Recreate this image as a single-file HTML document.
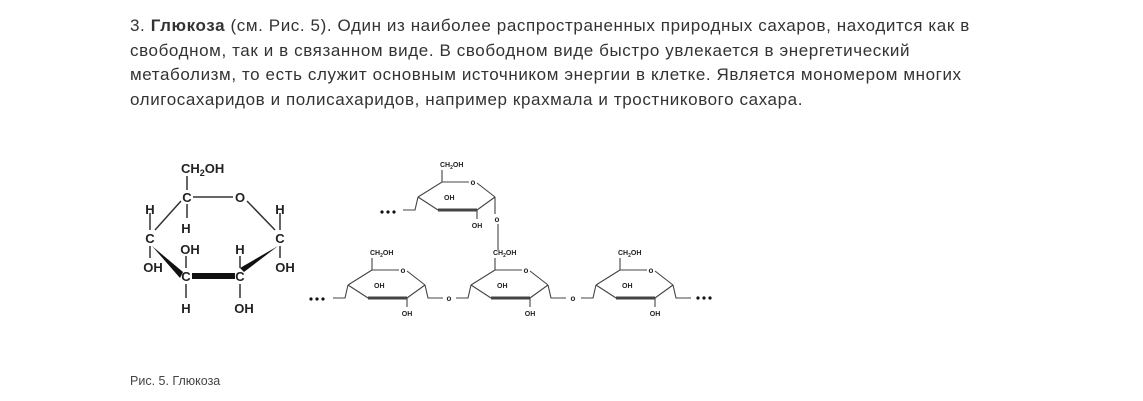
<!DOCTYPE html>
<html><head><meta charset="utf-8"><style>
body{margin:0;width:1143px;height:401px;background:#fff;overflow:hidden;font-family:"Liberation Sans",sans-serif;}
.t{position:absolute;left:130px;top:14px;font-size:17px;letter-spacing:0.6px;line-height:24.5px;color:#333;white-space:nowrap;}
.cap{position:absolute;left:130px;top:374px;font-size:12.5px;color:#444;}
svg{position:absolute;left:0;top:0}
</style></head><body>
<div class="t"><div>3. <b>Глюкоза</b> (см. Рис. 5). Один из наиболее распространенных природных сахаров, находится как в</div>
<div>свободном, так и в связанном виде. В свободном виде быстро увлекается в энергетический</div>
<div>метаболизм, то есть служит основным источником энергии в клетке. Является мономером многих</div>
<div>олигосахаридов и полисахаридов, например крахмала и тростникового сахара.</div></div>
<svg width="1143" height="401" font-family="Liberation Sans,sans-serif" font-weight="bold" fill="#222">
<defs>
<g id="u" stroke="#444" stroke-width="1.1" fill="none">
<path d="M0 0L24 -15M24 -15L51 -15M59 -14L77 0M0 0L20 13M59 13L77 0"/>
<path d="M20 13L59 13" stroke-width="3"/>
<path d="M24 -15V-27M59 13V22M0 0L-3 13H-15M77 0L80 13H95"/>
<text x="22" y="-30" font-size="7" fill="#222" stroke="none">CH<tspan font-size="5" dy="2">2</tspan><tspan dy="-2">OH</tspan></text>
<text x="55" y="-12" font-size="8" fill="#222" stroke="none" text-anchor="middle">o</text>
<text x="26" y="3" font-size="7" fill="#222" stroke="none">OH</text>
<text x="59" y="31" font-size="7" fill="#222" stroke="none" text-anchor="middle">OH</text>
</g>
</defs>
<g stroke="#333" stroke-width="1.5" fill="none">
<path d="M193 197H233M247 201L275 230M181 201L155 230"/>
<path d="M187 176V190M187 204V218M150 213V230M150 246V258M280 213V230M280 246V258M186 256V268M186 284V298M240 256V268M240 284V298"/>
</g>
<path d="M152 246L183 272L180 278Z" fill="#111"/>
<path d="M278 246L244 272L240 268Z" fill="#111"/>
<rect x="192" y="273" width="43" height="6" fill="#111"/>
<g font-size="13">
<text x="181" y="173">CH<tspan font-size="9" dy="3">2</tspan><tspan dy="-3">OH</tspan></text>
<text x="187" y="202" text-anchor="middle">C</text>
<text x="240" y="202" text-anchor="middle">O</text>
<text x="150" y="243" text-anchor="middle">C</text>
<text x="280" y="243" text-anchor="middle">C</text>
<text x="186" y="281" text-anchor="middle">C</text>
<text x="240" y="281" text-anchor="middle">C</text>
<text x="150" y="214" text-anchor="middle">H</text>
<text x="280" y="214" text-anchor="middle">H</text>
<text x="186" y="233" text-anchor="middle">H</text>
<text x="153" y="272" text-anchor="middle">OH</text>
<text x="285" y="272" text-anchor="middle">OH</text>
<text x="190" y="254" text-anchor="middle">OH</text>
<text x="240" y="254" text-anchor="middle">H</text>
<text x="186" y="313" text-anchor="middle">H</text>
<text x="244" y="313" text-anchor="middle">OH</text>
</g>
<use href="#u" x="348" y="285"/>
<use href="#u" x="471" y="285"/>
<use href="#u" x="596" y="285"/>
<g transform="translate(418,197)" stroke="#444" stroke-width="1.1" fill="none">
<path d="M0 0L24 -15H51M59 -14L77 0M0 0L20 13M59 13L77 0"/>
<path d="M20 13L59 13" stroke-width="3"/>
<path d="M24 -15V-27M59 13V22M0 0L-3 13H-15M77 0V17M80 27V53"/>
<g fill="#222" stroke="none" font-size="7">
<text x="22" y="-30">CH<tspan font-size="5" dy="2">2</tspan><tspan dy="-2">OH</tspan></text>
<text x="55" y="-12" font-size="8" text-anchor="middle">o</text>
<text x="26" y="3">OH</text>
<text x="59" y="31" text-anchor="middle">OH</text>
<text x="79" y="25" font-size="8" text-anchor="middle">o</text>
</g></g>
<g font-size="8" text-anchor="middle"><text x="449" y="301">o</text><text x="573" y="301">o</text></g>
<g fill="#111"><circle cx="311" cy="299" r="1.6"/><circle cx="317" cy="299" r="1.6"/><circle cx="323" cy="299" r="1.6"/>
<circle cx="382" cy="212" r="1.6"/><circle cx="388" cy="212" r="1.6"/><circle cx="394" cy="212" r="1.6"/>
<circle cx="698" cy="298" r="1.6"/><circle cx="704" cy="298" r="1.6"/><circle cx="710" cy="298" r="1.6"/></g>
</svg>
<div class="cap">Рис. 5. Глюкоза</div>
</body></html>
